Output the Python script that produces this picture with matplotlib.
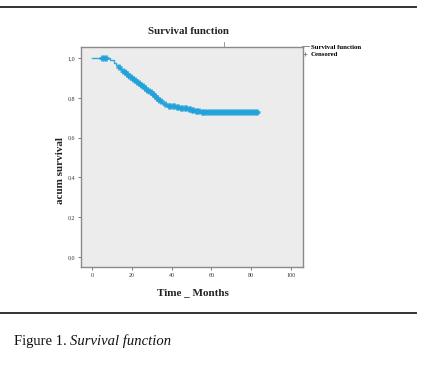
import matplotlib
matplotlib.use("Agg")
import matplotlib.pyplot as plt
from matplotlib.lines import Line2D
import numpy as np

# ---- data ----
event_times = [0, 9, 11, 12, 13, 14, 15, 16, 17, 18, 19, 20, 21, 22, 23, 24, 25, 26, 27, 28, 29,
               30, 31, 32, 33, 34, 35, 36, 37, 38, 40, 42, 44, 46, 48, 50, 52, 55, 83]
survival    = [1.0, 0.99, 0.975, 0.965, 0.955, 0.945, 0.935, 0.93, 0.92, 0.912, 0.905, 0.897,
               0.89, 0.882, 0.874, 0.866, 0.858, 0.85, 0.842, 0.835, 0.828, 0.82, 0.81, 0.80,
               0.79, 0.783, 0.776, 0.77, 0.765, 0.76, 0.757, 0.754, 0.75, 0.747, 0.742, 0.737,
               0.732, 0.728, 0.728]
censored_times = [5, 6, 7, 13.5, 15.5, 16.5, 17.5, 18.5, 19.5, 20.5, 21.5, 22.5, 23.5, 24.5, 25.5,
                  26.5, 27.5, 28.5, 29.5, 30.5, 31.5, 32.5, 33.5, 34.5, 36.5, 38.5, 39, 40.5, 41,
                  42.5, 43, 44.5, 45, 46.5, 47, 48.5, 49, 50.5, 51, 52.5, 53, 54, 55.5, 56, 57,
                  58, 59, 60, 61, 62, 63, 64, 65, 66, 67, 68, 69, 70, 71, 72, 73, 74, 75, 76,
                  77, 78, 79, 80, 81, 82, 83]
x_ticks = [0, 20, 40, 60, 80, 100]
y_ticks = [0.0, 0.2, 0.4, 0.6, 0.8, 1.0]
y_tick_labels = ["0,0", "0,2", "0,4", "0,6", "0,8", "1,0"]

title = "Survival function"
x_label = "Time _ Months"
y_label = "acum survival"
legend_labels = ["Survival function", "Censored"]
caption_a = "Figure 1. "
caption_b = "Survival function"

curve_color = "#22a2da"
serif = ["Liberation Serif", "DejaVu Serif"]

W, H = 443, 365
fig = plt.figure(figsize=(W / 100, H / 100), dpi=100)
fig.patch.set_facecolor("white")

ax = fig.add_axes([81 / W, 1 - 267 / H, (303 - 81) / W, (267 - 47) / H])
ax.set_facecolor("#ececec")
for s in ax.spines.values():
    s.set_color("#8a8a8a")
    s.set_linewidth(1.0)

# step function
ax.step(event_times, survival, where="post", color=curve_color, lw=1.0, alpha=0.9)
cens_s = [survival[np.searchsorted(event_times, t, side="right") - 1] for t in censored_times]
ax.plot(censored_times, cens_s, ls="none", marker="+", ms=4.5, mew=2.0, color=curve_color,
        alpha=0.9)

ax.set_xlim(-5.5, 106)
ax.set_ylim(-0.05, 1.056)
ax.set_xticks(x_ticks)
ax.set_xticklabels([str(v) for v in x_ticks])
ax.set_yticks(y_ticks)
ax.set_yticklabels(y_tick_labels)
ax.tick_params(axis="both", length=2.5, width=0.6, color="#666666", labelsize=4.3,
               labelcolor="#333333", pad=2)
for lab in ax.get_xticklabels() + ax.get_yticklabels():
    lab.set_family(serif)

fig.text(188 / W, 1 - 31 / H, title, ha="center", va="center", fontsize=7.8,
         fontweight="bold", family=serif, color="#222222")
fig.text(193 / W, 1 - 293 / H, x_label, ha="center", va="center", fontsize=8,
         fontweight="bold", family=serif, color="#222222")
fig.text(60 / W, 1 - 171 / H, y_label, ha="center", va="center", fontsize=8,
         fontweight="bold", family=serif, rotation=90, color="#222222")

# legend
handles = [Line2D([], [], color="#777777", lw=0.6),
           Line2D([], [], ls="none", marker="+", ms=3, mew=0.6, color="#777777")]
fig.legend(handles, legend_labels, loc="upper left", bbox_to_anchor=(302 / W, 1 - 44 / H),
           frameon=False, prop={"family": serif, "size": 4.9, "weight": "bold"},
           handlelength=1.0, handletextpad=0.25, labelspacing=0.25, borderaxespad=0, borderpad=0)

# small artifact tick above the plot
fig.add_artist(Line2D([224 / W, 224 / W], [1 - 42 / H, 1 - 46 / H], color="#888888", lw=0.6))

# document rules
fig.add_artist(Line2D([0, 416 / W], [1 - 7 / H, 1 - 7 / H], color="#333333", lw=1.4))
fig.add_artist(Line2D([0, 416 / W], [1 - 313 / H, 1 - 313 / H], color="#333333", lw=1.4))

# caption
t1 = fig.text(14 / W, 1 - 341 / H, caption_a, ha="left", va="center", fontsize=10.5,
              family=serif, color="#111111")
fig.canvas.draw()
bb = t1.get_window_extent()
fig.text(bb.x1 / W, 1 - 341 / H, caption_b, ha="left", va="center", fontsize=10.5,
         family=serif, style="italic", color="#111111")

fig.savefig("out.png", dpi=100, facecolor="white")
